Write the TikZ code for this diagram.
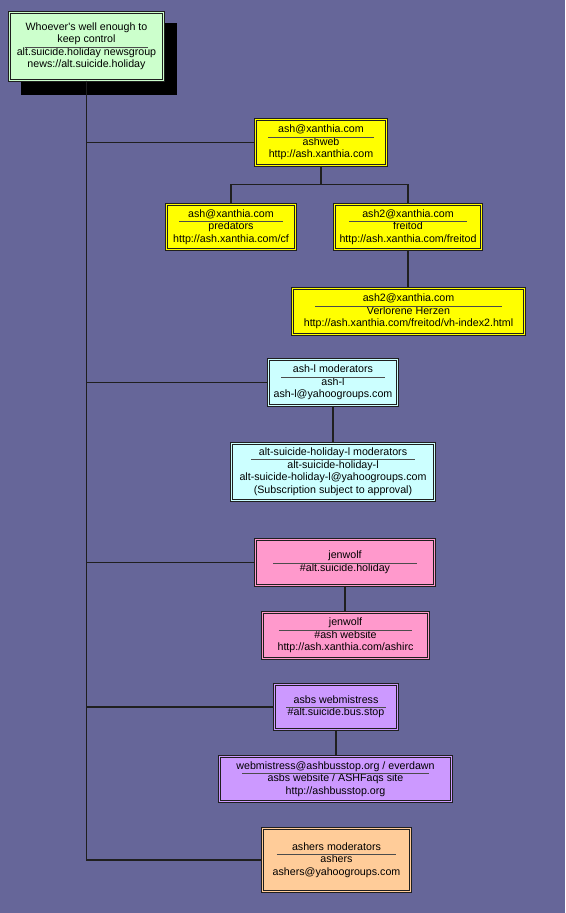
\documentclass[tikz,border=0pt]{standalone}
\usepackage{fontspec}
\setmainfont{Liberation Sans}
\usetikzlibrary{calc}
\definecolor{bgc}{RGB}{102,102,153}
\definecolor{cgreen}{HTML}{CCFFCC}
\definecolor{cyel}{HTML}{FFFF00}
\definecolor{ccyan}{HTML}{CCFFFF}
\definecolor{cpink}{HTML}{FF99CC}
\definecolor{cpurp}{HTML}{CC99FF}
\definecolor{corng}{HTML}{FFCC99}
\newcommand\pfont{\fontsize{10.67}{12.5}\selectfont}
\newcommand\mystrut{\rule[-2.65pt]{0pt}{9.85pt}}
\newcommand\mysep[2]{\draw[sepl] ($(#1.west)!0.1!(#1.east)+(0,#2)$) -- ($(#1.west)!0.9!(#1.east)+(0,#2)$);}
\begin{document}
\begin{tikzpicture}[x=1pt,y=-1pt,
  pbox/.style={draw=black!88, fill=#1, double=#1, double distance=1.4pt, line width=0.8pt,
    inner sep=0pt, align=center, font=\pfont, text=black},
  conn/.style={draw=black!88, line width=1.1pt},
  sepl/.style={draw=black!70, line width=0.9pt}]
\fill[bgc] (0,0) rectangle (565,913);
\useasboundingbox (0,0) rectangle (565,913);
% shadow of the root box
\fill[black] (21,23) rectangle (177,95);
\node[pbox=cgreen, minimum width=154pt, minimum height=68pt] (root) at (86.5,46.5)
  {\mystrut Whoever\textquotesingle s well enough to\\\mystrut keep control\\\mystrut alt.suicide.holiday newsgroup\\\mystrut news://alt.suicide.holiday};
\node[pbox=cyel, minimum width=131pt, minimum height=46pt] (ashweb) at (321,142.5)
  {\mystrut ash@xanthia.com\\\mystrut ashweb\\\mystrut http://ash.xanthia.com};
\node[pbox=cyel, minimum width=129pt, minimum height=45pt] (pred) at (231,227)
  {\mystrut ash@xanthia.com\\\mystrut predators\\\mystrut http://ash.xanthia.com/cf};
\node[pbox=cyel, minimum width=147pt, minimum height=45pt] (freitod) at (408,227)
  {\mystrut ash2@xanthia.com\\\mystrut freitod\\\mystrut http://ash.xanthia.com/freitod};
\node[pbox=cyel, minimum width=232pt, minimum height=46pt] (vh) at (408.5,311.5)
  {\mystrut ash2@xanthia.com\\\mystrut Verlorene Herzen\\\mystrut http://ash.xanthia.com/freitod/vh-index2.html};
\node[pbox=ccyan, minimum width=129pt, minimum height=46pt] (ashl) at (333,382.5)
  {\mystrut ash-l moderators\\\mystrut ash-l\\\mystrut ash-l@yahoogroups.com};
\node[pbox=ccyan, minimum width=203pt, minimum height=57pt] (alt) at (333,472)
  {\mystrut alt-suicide-holiday-l moderators\\\mystrut alt-suicide-holiday-l\\\mystrut alt-suicide-holiday-l@yahoogroups.com\\\mystrut (Subscription subject to approval)};
\node[pbox=cpink, minimum width=179pt, minimum height=46pt] (jen1) at (345,562.5)
  {\mystrut jenwolf\\\mystrut \#alt.suicide.holiday};
\node[pbox=cpink, minimum width=166pt, minimum height=46pt] (jen2) at (345.5,635.5)
  {\mystrut jenwolf\\\mystrut \#ash website\\\mystrut http://ash.xanthia.com/ashirc};
\node[pbox=cpurp, minimum width=123pt, minimum height=45pt] (asbs) at (336,707)
  {\mystrut asbs webmistress\\\mystrut \#alt.suicide.bus.stop};
\node[pbox=cpurp, minimum width=232pt, minimum height=45pt] (web) at (335.5,779)
  {\mystrut webmistress@ashbusstop.org / everdawn\\\mystrut asbs website / ASHFaqs site\\\mystrut http://ashbusstop.org};
\node[pbox=corng, minimum width=148pt, minimum height=63pt] (ashers) at (336.5,860)
  {\mystrut ashers moderators\\\mystrut ashers\\\mystrut ashers@yahoogroups.com};
% separators
\mysep{root}{0.5}
\mysep{ashweb}{-5.5}
\mysep{pred}{-5.5}
\mysep{freitod}{-5.5}
\mysep{vh}{-5.5}
\mysep{ashl}{-5.5}
\mysep{alt}{-12.5}
\mysep{jen1}{0.5}
\mysep{jen2}{-5.5}
\mysep{asbs}{0.5}
\mysep{web}{-5.5}
\mysep{ashers}{-5.5}
% connectors
\draw[conn] (root.south) |- (ashweb.west);
\draw[conn] (root.south) |- (ashl.west);
\draw[conn] (root.south) |- (jen1.west);
\draw[conn] (root.south) |- (asbs.west);
\draw[conn] (root.south) |- (ashers.west);
\draw[conn] (ashweb.south) -- ++(0,19) -| (pred.north);
\draw[conn] (ashweb.south) -- ++(0,19) -| (freitod.north);
\draw[conn] (freitod.south) -- (freitod.south |- vh.north);
\draw[conn] (ashl.south) -- (ashl.south |- alt.north);
\draw[conn] (jen1.south) -- (jen1.south |- jen2.north);
\draw[conn] (asbs.south) -- (asbs.south |- web.north);
\end{tikzpicture}
\end{document}
